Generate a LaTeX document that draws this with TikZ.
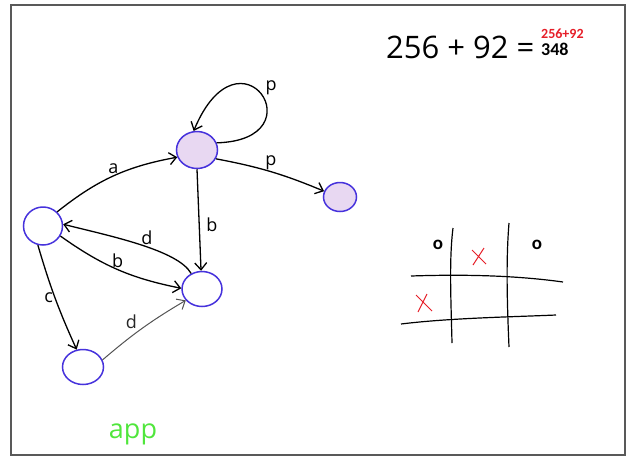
\documentclass[tikz,border=0pt]{standalone}
\usepackage{fontspec}
\setmainfont{Open Sans}
\newfontfamily\boldfont{Carlito}
\usetikzlibrary{shapes.geometric,arrows.meta}
\definecolor{penblue}{RGB}{70,50,220}
\definecolor{lavender}{RGB}{232,216,242}
\definecolor{pengreen}{RGB}{80,230,60}
\definecolor{penred}{RGB}{230,30,40}

\begin{document}
\begin{tikzpicture}[x=1pt,y=1pt,
 st/.style={ellipse,draw=penblue,line width=1.5pt,inner sep=0pt},
 acc/.style={st,fill=lavender},
 ar/.style={-{Straight Barb[length=7pt,width=12pt]},line width=1.3pt},
 lbl/.style={font=\fontsize{18}{18}\selectfont,inner sep=1.5pt}]
\useasboundingbox (0,0) rectangle (627,-456);
\draw[gray!70!black,line width=1.2pt] (11,-5) rectangle (625,-455);
% states
\node[acc,minimum width=41pt,minimum height=37pt] (top) at (197,-150) {};
\node[acc,minimum width=33pt,minimum height=29pt] (sink) at (340,-197) {};
\node[st,minimum width=39pt,minimum height=38pt] (left) at (43,-226) {};
\node[st,minimum width=40pt,minimum height=35pt] (mid) at (202,-289) {};
\node[st,minimum width=41pt,minimum height=35pt] (bot) at (83,-367) {};
% transitions
\draw[ar] (left.45) to[bend left=14] node[lbl,above,pos=0.5]{a} (top.200);
\draw[ar] (top.20) .. controls (320,-140) and (240,-20) .. (top.100) node[lbl,pos=0.47,above right]{p};
\draw[ar] (top.-25) to[bend left=6] node[lbl,above,pos=0.5]{p} (sink.160);
\draw[ar] (top.-90) -- node[lbl,right=5pt,pos=0.55]{b} (mid.93);
\draw[ar] (mid.125) .. controls (178,-250) and (110,-236) .. node[lbl,above,pos=0.45]{d} (left.5);
\draw[ar] (left.-30) to[bend right=12] node[lbl,above,pos=0.5]{b} (mid.178);
\draw[ar] (left.-105) to[bend right=4] node[lbl,left,pos=0.5]{c} (bot.110);
\draw[ar,gray!65!black,line width=1pt] (bot.20) to[bend left=5] node[lbl,above left,pos=0.45,black!85]{d} (mid.-145);
\node[text=pengreen,font=\fontsize{27}{27}\selectfont] (app) at (133,-434) {app};
% sum
\node[font=\fontsize{31}{31}\selectfont,anchor=base west,inner sep=0pt] (sum) at (386,-58) {256 + 92 =};
\node[font=\boldfont\bfseries\fontsize{14}{14}\selectfont,text=penred,anchor=base west,inner sep=0pt] (ask) at (541,-38) {256+92};
\node[font=\boldfont\bfseries\fontsize{18}{18}\selectfont,anchor=base west,inner sep=0pt] (res) at (541,-55) {348};
% grid
\draw[line width=1.2pt] (453,-228) .. controls (449,-260) and (451,-300) .. (452,-343);
\draw[line width=1.2pt] (509,-223) .. controls (506,-260) and (507,-300) .. (509,-347);
\draw[line width=1.2pt] (411,-276) .. controls (470,-274) and (520,-276) .. (563,-282);
\draw[line width=1.2pt] (401,-324) .. controls (450,-318) and (510,-317) .. (556,-315);
\node[font=\boldfont\bfseries\fontsize{19}{19}\selectfont] (o1) at (438,-245) {o};
\node[font=\boldfont\bfseries\fontsize{19}{19}\selectfont] (o2) at (537,-245) {o};
\draw[penred,line width=1pt] (472,-250) -- (486,-264) (484,-248) -- (473,-265);
\draw[penred,line width=1pt] (416,-295) -- (432,-311) (427,-294) -- (418,-312);
\end{tikzpicture}
\end{document}
